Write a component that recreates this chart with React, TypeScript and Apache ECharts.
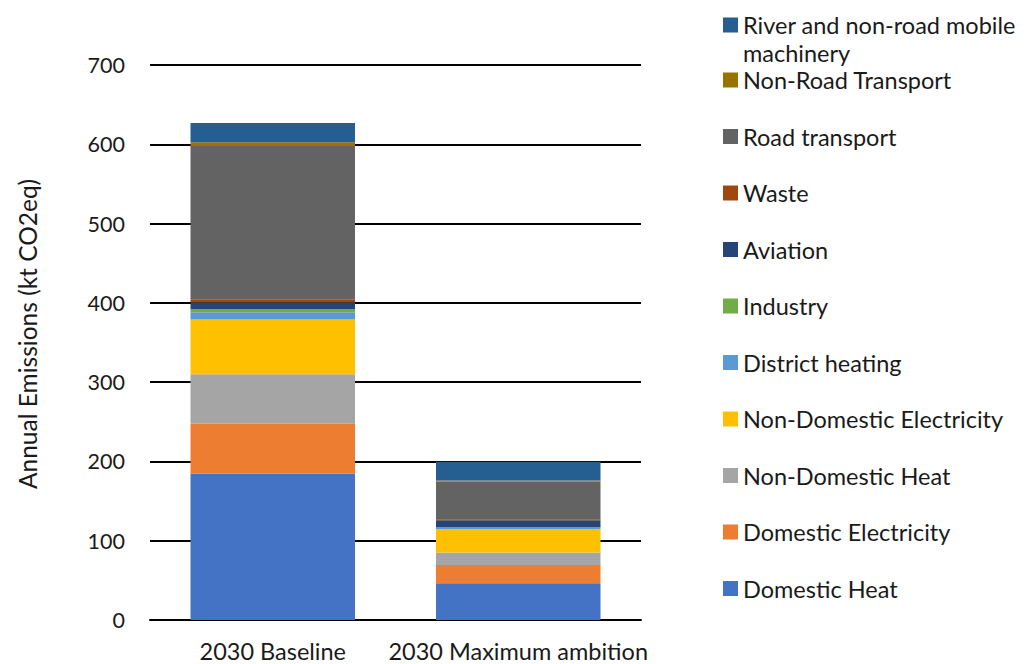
import React, { useEffect, useRef } from "react";
import * as echarts from "echarts";

const categories = ["2030 Baseline", "2030 Maximum ambition"];

// stacking order bottom -> top
const seriesNames = [
  "Domestic Heat",
  "Domestic Electricity",
  "Non-Domestic Heat",
  "Non-Domestic Electricity",
  "District heating",
  "Industry",
  "Aviation",
  "Waste",
  "Road transport",
  "Non-Road Transport",
  "River and non-road mobile machinery",
];

const seriesColors = [
  "#4472C4",
  "#ED7D31",
  "#A5A5A5",
  "#FFC000",
  "#5B9BD5",
  "#70AD47",
  "#264478",
  "#9E480E",
  "#636363",
  "#997300",
  "#255E91",
];

const baselineValues = [184.5, 63, 62.6, 68.9, 9.2, 4.2, 8.4, 3.8, 193.3, 4.6, 24.4];
const maxAmbitionValues = [46.2, 23.3, 15.7, 29.6, 1.2, 1.4, 8.4, 1.3, 47.5, 1.2, 23.8];

const yTicks = { min: 0, max: 700, interval: 100 };

const FONT = "Lato";
const TEXT_COLOR = "#1a1a1a";

export default function App() {
  const ref = useRef<HTMLDivElement>(null);

  useEffect(() => {
    document.body.style.margin = "0";
    const chart = echarts.init(ref.current!, null, { renderer: "svg" });
    const riverName = seriesNames[seriesNames.length - 1];
    const otherLegend = seriesNames.slice(0, seriesNames.length - 1).reverse();

    chart.setOption({
      animation: false,
      backgroundColor: "#ffffff",
      grid: { left: 150, right: 388, top: 65, bottom: 44, containLabel: false },
      legend: [
        {
          orient: "vertical",
          left: 723,
          top: -17,
          padding: 0,
          itemWidth: 15,
          itemHeight: 15,
          icon: "rect",
          selectedMode: false,
          data: [riverName],
          formatter: () => "\nRiver and non-road mobile\nmachinery",
          textStyle: {
            fontFamily: FONT,
            fontSize: 23.5,
            color: TEXT_COLOR,
            lineHeight: 28,
          },
        },
        {
          orient: "vertical",
          left: 723,
          top: 67,
          padding: 0,
          itemWidth: 15,
          itemHeight: 15,
          itemGap: 30.5,
          icon: "rect",
          selectedMode: false,
          data: otherLegend,
          textStyle: {
            fontFamily: FONT,
            fontSize: 23.5,
            color: TEXT_COLOR,
            lineHeight: 26,
          },
        },
      ],
      xAxis: {
        type: "category",
        data: categories,
        axisLine: { show: true, lineStyle: { color: "#000", width: 2 } },
        axisTick: { show: false },
        axisLabel: {
          interval: 0,
          fontFamily: FONT,
          fontSize: 23.5,
          lineHeight: 24,
          color: TEXT_COLOR,
          margin: 19,
        },
      },
      yAxis: {
        type: "value",
        min: yTicks.min,
        max: yTicks.max,
        interval: yTicks.interval,
        name: "Annual Emissions (kt CO2eq)",
        nameLocation: "middle",
        nameGap: 110,
        nameRotate: 90,
        nameTextStyle: {
          fontFamily: FONT,
          fontSize: 24.5,
          color: TEXT_COLOR,
          padding: [0, 0, 0, 17],
        },
        axisLine: { show: false },
        axisTick: { show: false },
        splitLine: { lineStyle: { color: "#000", width: 2 } },
        axisLabel: {
          fontFamily: FONT,
          fontSize: 21.5,
          color: TEXT_COLOR,
          margin: 25,
        },
      },
      series: seriesNames.map((name, i) => ({
        name,
        type: "bar",
        stack: "total",
        barCategoryGap: "33%",
        itemStyle: { color: seriesColors[i] },
        data: [baselineValues[i], maxAmbitionValues[i]],
      })),
    });
    return () => chart.dispose();
  }, []);

  return (
    <div
      ref={ref}
      style={{ position: "fixed", left: 0, top: 0, width: 1029, height: 664 }}
    />
  );
}
